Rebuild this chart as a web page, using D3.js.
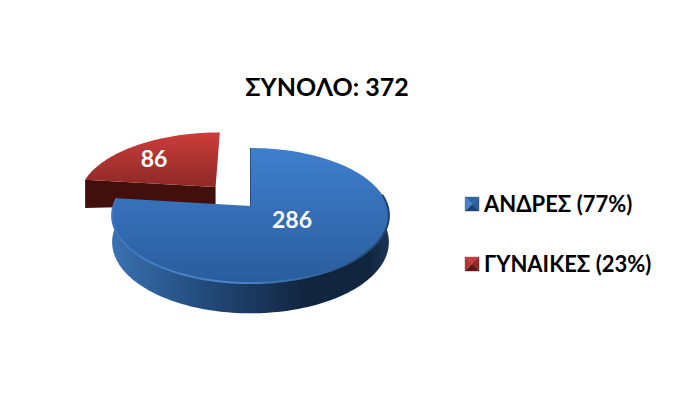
<!DOCTYPE html>
<html>
<head>
<meta charset="utf-8">
<script src="https://cdn.jsdelivr.net/npm/d3@7"></script>
<style>
html, body { margin: 0; padding: 0; background: #fff; }
svg { display: block; }
text { font-family: Lato, "Noto Sans", sans-serif; font-weight: 700; }
</style>
</head>
<body>
<script>
const title = "ΣΥΝΟΛΟ: 372";
const categories = ["ΑΝΔΡΕΣ (77%)", "ΓΥΝΑΙΚΕΣ (23%)"];
const values = [286, 86];

const width = 689, height = 413;
const cx = 250.5, cy = 206;
const rx = 137, ry = 66.2, persp = 0.141, depth = 26;
const explode = [0, 0.40];
const radius = [1, 1.02];

const svg = d3.select("body").append("svg").attr("width", width).attr("height", height);
const defs = svg.append("defs");

function vGrad(id, stops, horizontal) {
    const g = defs.append("linearGradient").attr("id", id)
        .attr("x1", 0).attr("y1", 0)
        .attr("x2", horizontal ? 1 : 0).attr("y2", horizontal ? 0 : 1);
    stops.forEach(s => g.append("stop").attr("offset", s[0]).attr("stop-color", s[1]));
}
vGrad("blueTop", [[0, "#3f7fce"], [1, "#2a5c9c"]]);
vGrad("redTop", [[0, "#cc3d3a"], [1, "#8e2927"]]);
vGrad("blueSide", [[0, "#3a72b0"], [0.3, "#244e80"], [0.7, "#12253f"], [0.93, "#12253f"], [1, "#1c3557"]], true);
vGrad("blueRim", [[0, "#3f78bd"], [0.45, "#4a86cc"], [0.8, "#2f5f98"], [1, "#1f3f68"]], true);

// pie plane to screen, with a bit of perspective
function project(u, v, drop) {
    const w = 1 / (1 - persp * v);
    return [cx + rx * u * w, cy + ry * v * w + drop * depth * w];
}

const slices = d3.pie().sort(null).startAngle(0).endAngle(2 * Math.PI)(values);

function sliceGeom(s, i) {
    const mid = (s.startAngle + s.endAngle) / 2;
    const ou = Math.sin(mid) * explode[i], ov = -Math.cos(mid) * explode[i];
    const pt = (r, a, drop = 0) => project(ou + r * radius[i] * Math.sin(a), ov - r * radius[i] * Math.cos(a), drop);
    const arc = (a0, a1, drop = 0) => d3.range(0, 121).map(k => pt(1, a0 + (a1 - a0) * k / 120, drop));
    return { pt, arc };
}

const line = d3.line();

// red slice first, it sits behind the blue one
const red = sliceGeom(slices[1], 1);
svg.append("path")
    .attr("d", line([red.pt(0, 0), red.pt(1, slices[1].startAngle), red.pt(1, slices[1].startAngle, 1.15), red.pt(0, 0, 0.72)]) + "Z")
    .attr("fill", "#430f0d");
svg.append("path")
    .attr("d", line([red.pt(0, 0)].concat(red.arc(slices[1].startAngle, slices[1].endAngle))) + "Z")
    .attr("fill", "url(#redTop)");

// blue slice: outer wall, then top face, then the light edge
const blue = sliceGeom(slices[0], 0);
const wallFrom = 80 * Math.PI / 180;
const wallTo = slices[0].endAngle;
svg.append("path")
    .attr("d", line(blue.arc(wallFrom, wallTo).concat(blue.arc(wallFrom, wallTo, 1).reverse())) + "Z")
    .attr("fill", "url(#blueSide)");
svg.append("path")
    .attr("d", line([blue.pt(0, 0)].concat(blue.arc(slices[0].startAngle, slices[0].endAngle))) + "Z")
    .attr("fill", "url(#blueTop)");
svg.append("path")
    .attr("d", line(blue.arc(wallFrom, wallTo)))
    .attr("fill", "none").attr("stroke", "url(#blueRim)").attr("stroke-width", 2);
svg.append("path")
    .attr("d", line([blue.pt(0, 0), blue.pt(1, 0)]))
    .attr("fill", "none").attr("stroke", "#24507f").attr("stroke-width", 1);

// data labels
const labelPos = [[292, 220], [154, 159]];
svg.selectAll("text.val").data(values).join("text").attr("class", "val")
    .attr("x", (d, i) => labelPos[i][0]).attr("y", (d, i) => labelPos[i][1])
    .attr("dy", "0.35em").attr("text-anchor", "middle")
    .attr("font-size", 23).attr("fill", "#fff").text(d => d);

svg.append("text").attr("x", 327).attr("y", 96).attr("text-anchor", "middle")
    .attr("font-size", 25).attr("fill", "#000").text(title);

// legend with bevelled swatches
const legendY = d3.scalePoint().domain(categories).range([204, 264]);
const swatchCols = [["#2f66aa", "#2c5c9a", "#1f4473", "#4a82c8"], ["#c04040", "#8f2a28", "#5f1817", "#b03533"]];
categories.forEach((c, i) => {
    const y = legendY(c), x0 = 465, s = 14;
    const g = svg.append("g").attr("transform", `translate(${x0},${y - s / 2})`);
    const corners = [[0, 0], [s, 0], [s, s], [0, s]];
    corners.forEach((p, k) => {
        const q = corners[(k + 1) % 4];
        g.append("path").attr("d", line([p, q, [s / 2, s / 2]]) + "Z")
            .attr("fill", swatchCols[i][k]).attr("stroke", swatchCols[i][k]).attr("stroke-width", 0.4);
    });
    svg.append("text").attr("x", 484).attr("y", y + 7.5)
        .attr("font-size", 22).attr("fill", "#000").text(c);
});
</script>
</body>
</html>
